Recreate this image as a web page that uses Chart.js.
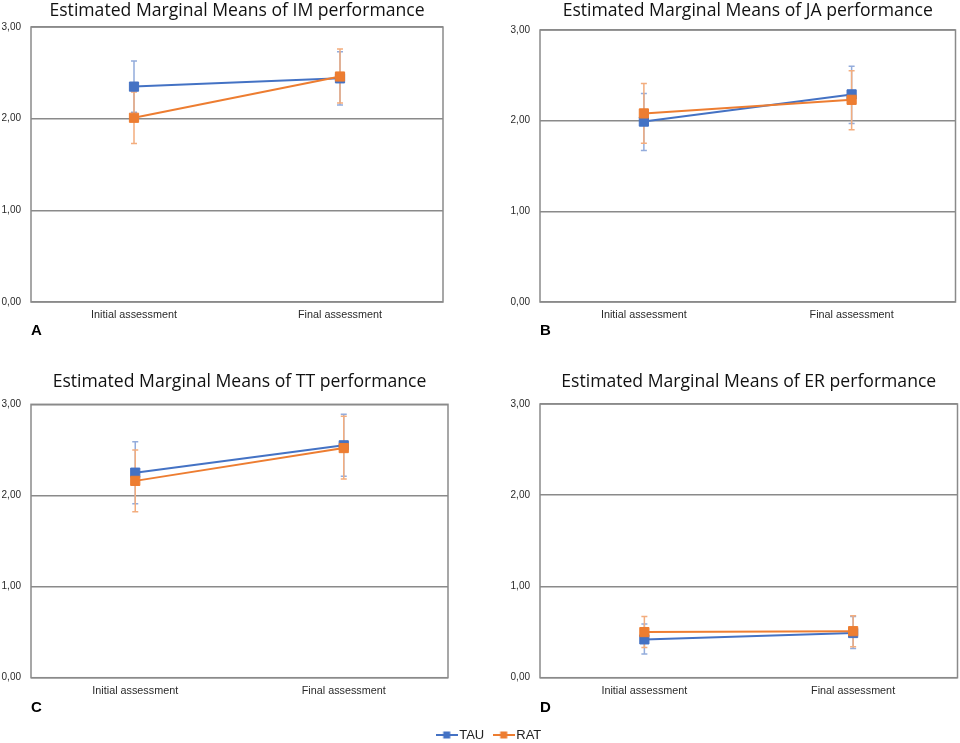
<!DOCTYPE html>
<html lang="en">
<head>
  <meta charset="UTF-8" />
  <title>Estimated Marginal Means</title>
  <script src="https://cdn.jsdelivr.net/npm/chart.js"></script>
  <style>
    html, body { margin: 0; background: #fff; overflow: hidden; height: 743px; }
    canvas { position: absolute; }
  </style>
</head>
<body>
  <canvas id="chartIM" width="480" height="340" style="left:0;top:0"></canvas>
  <canvas id="chartJA" width="480" height="340" style="left:483px;top:0"></canvas>
  <canvas id="chartTT" width="480" height="357" style="left:0;top:360px"></canvas>
  <canvas id="chartER" width="480" height="357" style="left:485px;top:360px"></canvas>
  <canvas id="legend" width="960" height="60" style="left:0;top:715px"></canvas>

  <script>
    const categories = ['Initial assessment', 'Final assessment'];
    const seriesNames = ['TAU', 'RAT'];
    const yTicks = [0, 1, 2, 3];

    // IM performance
    const tauIM = [2.35, 2.44], tauIMLo = [2.07, 2.15], tauIMHi = [2.63, 2.73];
    const ratIM = [2.01, 2.46], ratIMLo = [1.73, 2.17], ratIMHi = [2.29, 2.76];
    // JA performance
    const tauJA = [1.99, 2.29], tauJALo = [1.67, 1.97], tauJAHi = [2.30, 2.60];
    const ratJA = [2.08, 2.23], ratJALo = [1.75, 1.90], ratJAHi = [2.41, 2.55];
    // TT performance
    const tauTT = [2.25, 2.55], tauTTLo = [1.91, 2.21], tauTTHi = [2.59, 2.89];
    const ratTT = [2.16, 2.52], ratTTLo = [1.82, 2.18], ratTTHi = [2.50, 2.87];
    // ER performance
    const tauER = [0.42, 0.49], tauERLo = [0.26, 0.32], tauERHi = [0.59, 0.67];
    const ratER = [0.50, 0.51], ratERLo = [0.33, 0.34], ratERHi = [0.67, 0.68];

    const BLUE = '#4472C4', ORANGE = '#ED7D31';
    const GRID = '#8a8a8a';

    // error bars drawn under the lines/markers
    const errorBars = {
      id: 'errorBars',
      beforeDatasetsDraw(chart) {
        const { ctx, scales: { x, y } } = chart;
        ctx.save();
        ctx.lineWidth = 1.5;
        chart.data.datasets.forEach(ds => {
          if (!ds.errLo) return;
          ctx.strokeStyle = ds.errColor;
          ds.errLo.forEach((lo, j) => {
            const px = x.getPixelForValue(j);
            const y1 = y.getPixelForValue(lo), y2 = y.getPixelForValue(ds.errHi[j]);
            ctx.beginPath();
            ctx.moveTo(px, y1); ctx.lineTo(px, y2);
            ctx.moveTo(px - 3, y1); ctx.lineTo(px + 3, y1);
            ctx.moveTo(px - 3, y2); ctx.lineTo(px + 3, y2);
            ctx.stroke();
          });
        });
        ctx.restore();
      }
    };

    const frame = {
      id: 'frame',
      beforeDatasetsDraw(chart) {
        const { ctx, chartArea: a } = chart;
        ctx.save();
        ctx.strokeStyle = GRID;
        ctx.lineWidth = 1.5;
        ctx.strokeRect(a.left, a.top, a.right - a.left, a.bottom - a.top);
        ctx.restore();
      }
    };

    function series(name, color, errColor, values, lo, hi, order) {
      return {
        label: name, data: values, errLo: lo, errHi: hi, errColor: errColor,
        borderColor: color, backgroundColor: color, borderWidth: 2,
        pointStyle: 'rect', pointRadius: 6.5, pointBorderWidth: 1,
        pointBackgroundColor: color, pointBorderColor: color, order: order
      };
    }

    function panel(id, title, letter, tau, rat, pad, titlePad, subPad) {
      new Chart(document.getElementById(id), {
        type: 'line',
        data: {
          labels: categories,
          datasets: [
            series(seriesNames[0], BLUE, '#93acdc', tau[0], tau[1], tau[2], 1),
            series(seriesNames[1], ORANGE, '#f3ad7e', rat[0], rat[1], rat[2], 0)
          ]
        },
        options: {
          responsive: false,
          animation: false,
          layout: { padding: pad },
          plugins: {
            legend: { display: false },
            tooltip: { enabled: false },
            title: {
              display: true, text: title, fullSize: false, color: '#111',
              font: { family: 'Open Sans', size: 17.6, weight: 'normal' },
              padding: titlePad
            },
            subtitle: {
              display: true, text: letter, position: 'bottom', align: 'start', fullSize: false,
              color: '#000', font: { family: 'Liberation Sans', size: 15, weight: 'bold' },
              padding: subPad
            }
          },
          scales: {
            x: {
              offset: true,
              afterFit: s => { s.height = 19; },
              grid: { display: false, drawTicks: false },
              border: { display: false },
              ticks: { color: '#2a2a2a', padding: 7, font: { family: 'Liberation Sans', size: 10.8 } }
            },
            y: {
              min: 0, max: 3,
              afterBuildTicks: s => { s.ticks = yTicks.map(v => ({ value: v })); },
              afterFit: s => { s.width = 31; },
              grid: { color: GRID, lineWidth: 1.5, drawTicks: false },
              border: { display: false },
              ticks: {
                color: '#2a2a2a', padding: 10,
                font: { family: 'Liberation Sans', size: 10 },
                callback: v => v.toFixed(2).replace('.', ',')
              }
            }
          }
        },
        plugins: [frame, errorBars]
      });
    }

    panel('chartIM', 'Estimated Marginal Means of IM performance', 'A',
      [tauIM, tauIMLo, tauIMHi], [ratIM, ratIMLo, ratIMHi],
      { left: 0, right: 37, top: 0, bottom: 0 }, { top: 0, bottom: 5.9 }, { top: 1, bottom: 0 });
    panel('chartJA', 'Estimated Marginal Means of JA performance', 'B',
      [tauJA, tauJALo, tauJAHi], [ratJA, ratJALo, ratJAHi],
      { left: 26, right: 0, top: 0, bottom: 0 }, { top: 0, bottom: 8.9 }, { top: 1, bottom: 0 });
    panel('chartTT', 'Estimated Marginal Means of TT performance', 'C',
      [tauTT, tauTTLo, tauTTHi], [ratTT, ratTTLo, ratTTHi],
      { left: 0, right: 32, top: 0, bottom: 0 }, { top: 11, bottom: 12.2 }, { top: 2.3, bottom: 0 });
    panel('chartER', 'Estimated Marginal Means of ER performance', 'D',
      [tauER, tauERLo, tauERHi], [ratER, ratERLo, ratERHi],
      { left: 24, right: 0, top: 0, bottom: 0 }, { top: 11, bottom: 11.9 }, { top: 2.3, bottom: 0 });

    // legend marker: line with a square
    function marker(color) {
      const c = document.createElement('canvas');
      c.width = 22; c.height = 10;
      const g = c.getContext('2d');
      g.fillStyle = color;
      g.fillRect(0, 4, 22, 2);
      g.fillRect(7.5, 1.5, 7, 7);
      return c;
    }

    // shared legend
    new Chart(document.getElementById('legend'), {
      type: 'line',
      data: {
        labels: [],
        datasets: [
          { label: seriesNames[0], data: [], borderColor: BLUE, backgroundColor: BLUE, pointStyle: marker(BLUE) },
          { label: seriesNames[1], data: [], borderColor: ORANGE, backgroundColor: ORANGE, pointStyle: marker(ORANGE) }
        ]
      },
      options: {
        responsive: false,
        animation: false,
        layout: { padding: { left: 22 } },
        scales: { x: { display: false }, y: { display: false } },
        plugins: {
          tooltip: { enabled: false },
          legend: {
            position: 'top',
            labels: {
              usePointStyle: true, pointStyleWidth: 12, padding: 13.5,
              color: '#222', font: { family: 'Liberation Sans', size: 13 }
            }
          }
        }
      }
    });
  </script>
</body>
</html>
